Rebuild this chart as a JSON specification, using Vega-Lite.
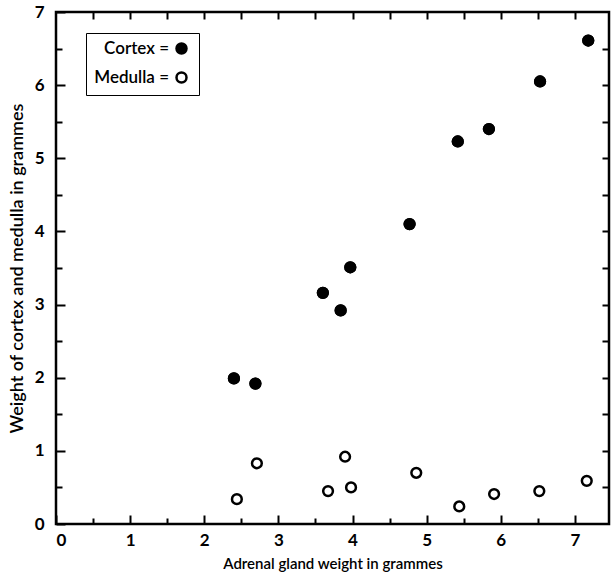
{
  "$schema": "https://vega.github.io/schema/vega-lite/v6.json",
  "autosize": "none",
  "padding": {"left": 56, "top": 12, "right": 6, "bottom": 50},
  "width": 553,
  "height": 512,
  "background": "white",
  "config": {
    "view": {"stroke": "black", "strokeWidth": 2.5},
    "axis": {"grid": false, "domain": false, "tickColor": "black", "tickWidth": 2, "labelColor": "black", "titleColor": "black", "labelFont": "Lato", "titleFont": "Lato"}
  },
  "data": {
    "values": [
      {"x": 2.40, "w": 1.99, "part": "Cortex"},
      {"x": 2.69, "w": 1.92, "part": "Cortex"},
      {"x": 3.60, "w": 3.16, "part": "Cortex"},
      {"x": 3.84, "w": 2.92, "part": "Cortex"},
      {"x": 3.97, "w": 3.51, "part": "Cortex"},
      {"x": 4.77, "w": 4.10, "part": "Cortex"},
      {"x": 5.42, "w": 5.23, "part": "Cortex"},
      {"x": 5.84, "w": 5.40, "part": "Cortex"},
      {"x": 6.53, "w": 6.05, "part": "Cortex"},
      {"x": 7.18, "w": 6.61, "part": "Cortex"},
      {"x": 2.44, "w": 0.34, "part": "Medulla"},
      {"x": 2.71, "w": 0.83, "part": "Medulla"},
      {"x": 3.67, "w": 0.45, "part": "Medulla"},
      {"x": 3.90, "w": 0.92, "part": "Medulla"},
      {"x": 3.98, "w": 0.50, "part": "Medulla"},
      {"x": 4.86, "w": 0.70, "part": "Medulla"},
      {"x": 5.44, "w": 0.24, "part": "Medulla"},
      {"x": 5.91, "w": 0.41, "part": "Medulla"},
      {"x": 6.52, "w": 0.45, "part": "Medulla"},
      {"x": 7.16, "w": 0.59, "part": "Medulla"}
    ]
  },
  "layer": [
    {
      "transform": [{"filter": "datum.part === 'Cortex'"}],
      "mark": {"type": "point", "shape": "circle", "filled": true, "stroke": "black", "strokeWidth": 2.5, "size": 95, "opacity": 1},
      "encoding": {
        "x": {"field": "x", "type": "quantitative", "scale": {"domain": [0, 7.46], "nice": false, "zero": false},
          "axis": {"orient": "bottom", "values": [0.5, 1.5, 2.5, 3.5, 4.5, 5.5, 6.5], "tickSize": -6, "labels": false, "title": null}},
        "y": {"field": "w", "type": "quantitative", "scale": {"domain": [0, 7], "nice": false, "zero": false},
          "axis": {"orient": "left", "values": [0.5, 1.5, 2.5, 3.5, 4.5, 5.5, 6.5], "tickSize": -6, "labels": false, "title": null}},
        "fill": {"field": "part", "type": "nominal", "scale": {"domain": ["Cortex", "Medulla"], "range": ["black", "white"]},
          "legend": {"orient": "none", "legendX": 30, "legendY": 21, "title": null, "strokeColor": "black", "padding": 7, "labelFont": "Lato", "labelFontSize": 17, "labelFontWeight": 600, "labelColor": "black", "labelExpr": "datum.label + ' ='", "labelAlign": "right", "labelOffset": -21, "symbolOffset": 80, "symbolStrokeColor": "black", "symbolStrokeWidth": 2.5, "symbolSize": 100, "symbolType": "circle", "rowPadding": 8,
            "encode": {"legend": {"update": {"strokeWidth": {"value": 2.5}}}}}}
      }
    },
    {
      "transform": [{"filter": "datum.part === 'Medulla'"}],
      "mark": {"type": "point", "shape": "circle", "filled": true, "stroke": "black", "strokeWidth": 2.5, "size": 95, "opacity": 1},
      "encoding": {
        "x": {"field": "x", "type": "quantitative",
          "axis": {"orient": "top", "values": [0.5, 1, 1.5, 2, 2.5, 3, 3.5, 4, 4.5, 5, 5.5, 6, 6.5, 7], "tickSize": -7, "labels": false, "title": null}},
        "y": {"field": "w", "type": "quantitative",
          "axis": {"orient": "right", "values": [0.5, 1, 1.5, 2, 2.5, 3, 3.5, 4, 4.5, 5, 5.5, 6, 6.5], "tickSize": -7, "labels": false, "title": null}},
        "fill": {"field": "part", "type": "nominal"}
      }
    },
    {
      "mark": {"type": "point", "shape": "circle", "filled": true, "stroke": "black", "strokeWidth": 2.5, "size": 95, "opacity": 1},
      "transform": [{"filter": "datum.part === 'Cortex'"}],
      "encoding": {
        "x": {"field": "x", "type": "quantitative",
          "axis": {"orient": "bottom", "values": [0, 1, 2, 3, 4, 5, 6, 7], "tickSize": -9, "labelFontSize": 17, "labelFontWeight": "bold", "labelPadding": 17, "title": "Adrenal gland weight in grammes", "titleFontSize": 15, "titleFontWeight": 600, "titleY": 39, "titleBaseline": "middle"}},
        "y": {"field": "w", "type": "quantitative",
          "axis": {"orient": "left", "values": [0, 1, 2, 3, 4, 5, 6, 7], "tickSize": -9, "labelFontSize": 17, "labelFontWeight": "bold", "labelPadding": 21, "title": "Weight of cortex and medulla in grammes", "titleFontSize": 18, "titleFontWeight": 600, "titlePadding": 8}},
        "fill": {"field": "part", "type": "nominal"}
      }
    }
  ],
  "resolve": {"axis": {"x": "independent", "y": "independent"}}
}
